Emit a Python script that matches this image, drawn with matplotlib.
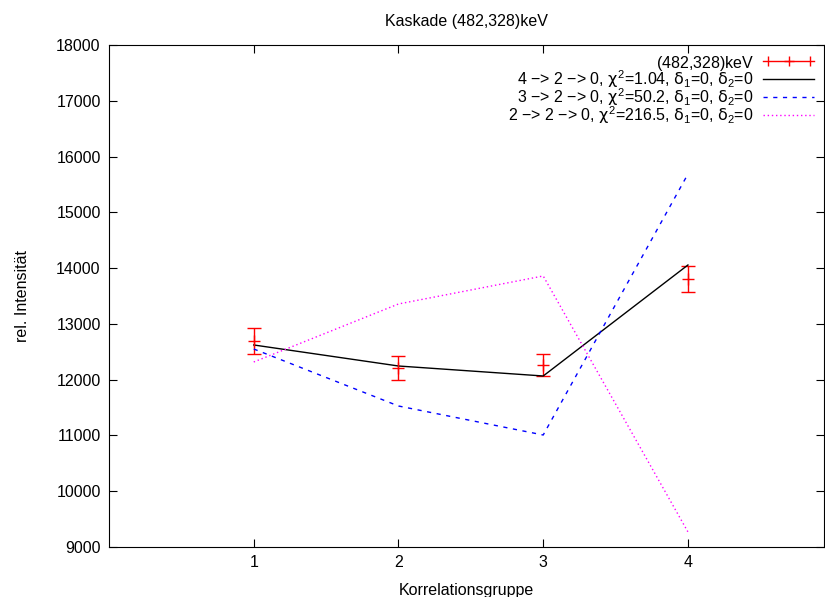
import matplotlib
matplotlib.use('Agg')
import matplotlib.pyplot as plt
from matplotlib.lines import Line2D
from matplotlib.legend_handler import HandlerLine2D, HandlerTuple

plt.rcParams['font.family'] = ['Liberation Sans', 'DejaVu Sans']
plt.rcParams['mathtext.fontset'] = 'custom'
plt.rcParams['mathtext.rm'] = 'Liberation Sans'
plt.rcParams['mathtext.it'] = 'DejaVu Sans'

groups = [1, 2, 3, 4]
meas = [12693, 12209, 12263, 13805]
meas_err = [225, 215, 205, 240]
fit_420 = [12622, 12245, 12066, 14056]
fit_320 = [12550, 11528, 11008, 15687]
fit_220 = [12317, 13357, 13859, 9270]

labels = ['(482,328)keV$^{\\,}_{\\,}$',
          '4 \u2212> 2 \u2212> 0, $\\chi^2$=1.04, $\\delta_1$=0, $\\delta_2$=0',
          '3 \u2212> 2 \u2212> 0, $\\chi^2$=50.2, $\\delta_1$=0, $\\delta_2$=0',
          '2 \u2212> 2 \u2212> 0, $\\chi^2$=216.5, $\\delta_1$=0, $\\delta_2$=0']

fs = 11.5

fig = plt.figure(figsize=(8.25, 5.97), dpi=100)
ax = fig.add_axes([109/825, 50/597, 715/825, 502/597])

ax.errorbar(groups, meas, yerr=meas_err, fmt='+', color='red', ms=8,
            capsize=5, elinewidth=1)
l1, = ax.plot(groups, fit_420, color='black', lw=1)
l2, = ax.plot(groups, fit_320, color='blue', lw=1, ls=(0, (3, 4)))
l3, = ax.plot(groups, fit_220, color='magenta', lw=1, ls=(0, (1, 2)))

# gnuplot style errorbar key sample: horizontal bar with caps and a cross
h_line = Line2D([], [], color='red', lw=1)
h_caps = Line2D([], [], color='red', ls='none', marker='|', ms=7)
h_plus = Line2D([], [], color='red', ls='none', marker='+', ms=7)

ax.set_xlim(0, 4.94)
ax.set_ylim(9000, 18000)
ax.set_xticks([1, 2, 3, 4])
ax.set_yticks(range(9000, 18001, 1000))
ax.tick_params(direction='in', top=True, right=True, labelsize=fs, length=6, pad=6)
ax.set_title('Kaskade (482,328)keV', fontsize=fs, pad=14)
ax.set_xlabel('Korrelationsgruppe', fontsize=fs, labelpad=9)
ax.set_ylabel('rel. Intensität', fontsize=fs, labelpad=19)

leg = ax.legend([(h_line, h_caps, h_plus), l1, l2, l3], labels,
                handler_map={tuple: HandlerTuple(ndivide=1),
                             h_caps: HandlerLine2D(numpoints=2),
                             h_plus: HandlerLine2D(numpoints=1)},
                loc='upper right', frameon=False, markerfirst=False,
                fontsize=fs, handlelength=3.2, labelspacing=-0.24,
                borderaxespad=0.2, handletextpad=0.6)

fig.savefig('out.png', dpi=100)
